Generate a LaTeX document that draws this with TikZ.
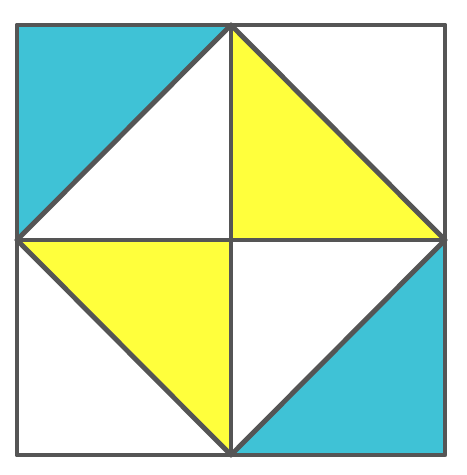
\documentclass[tikz,border=0pt]{standalone}
\usepackage{tikz}
\usepackage{xcolor}
\definecolor{quiltcyan}{HTML}{3FC2D6}
\definecolor{quiltyellow}{HTML}{FFFF3C}
\definecolor{quiltline}{HTML}{555555}

\begin{document}
\begin{tikzpicture}[
  x=0.02cm, y=-0.02cm,
  cyanpatch/.style={fill=quiltcyan},
  yellowpatch/.style={fill=quiltyellow},
  seam/.style={draw=quiltline, line width=2.8pt, line join=round, line cap=round}
]
\useasboundingbox (0,0) rectangle (466,475);
% corners and midpoints of the block
\coordinate (tl) at (17,25);
\coordinate (tr) at (445,25);
\coordinate (br) at (445,455);
\coordinate (bl) at (17,455);
\coordinate (tm) at (231,25);
\coordinate (rm) at (445,240);
\coordinate (bm) at (231,455);
\coordinate (lm) at (17,240);
\coordinate (c) at (231,240);

% patches
\fill[cyanpatch] (tl) -- (tm) -- (lm) -- cycle;
\fill[yellowpatch] (tm) -- (rm) -- (c) -- cycle;
\fill[yellowpatch] (lm) -- (c) -- (bm) -- cycle;
\fill[cyanpatch] (rm) -- (br) -- (bm) -- cycle;

% seams
\draw[seam] (tl) rectangle (br);
\draw[seam] (tm) -- (bm);
\draw[seam] (lm) -- (rm);
\draw[seam] (tm) -- (rm) -- (bm) -- (lm) -- cycle;
\end{tikzpicture}
\end{document}
